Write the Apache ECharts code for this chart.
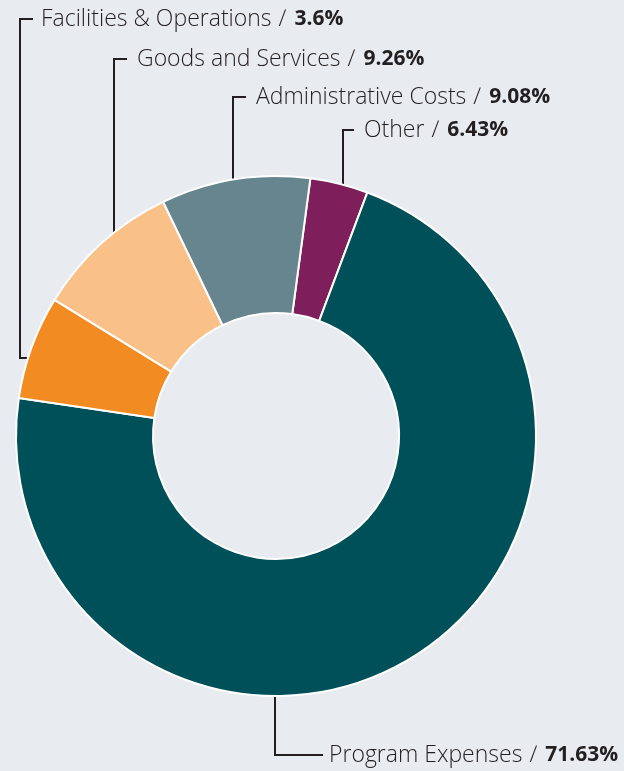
<!DOCTYPE html>
<html>
<head>
<meta charset="utf-8">
<script src="https://cdn.jsdelivr.net/npm/echarts@6/dist/echarts.min.js"></script>
<style>
  html, body { margin: 0; padding: 0; background: #e8ebf0; }
  #chart { width: 624px; height: 771px; }
</style>
</head>
<body>
<div id="chart"></div>
<script>
// slices clockwise, starting with the small purple one
var names = ['Other', 'Program Expenses', 'Facilities & Operations', 'Goods and Services', 'Administrative Costs'];
var values = [3.6, 71.63, 6.43, 9.08, 9.26];
// percentages as printed next to the labels in the original
var printedPct = ['6.43%', '71.63%', '3.6%', '9.26%', '9.08%'];
var colors = ['#7e1f5b', '#00505a', '#f28b21', '#f9c187', '#66858e'];

var cx = 276, cy = 436, rIn = 123, rOut = 260;

// label spots: text left x, text middle y, x of the vertical leader
var labelSpots = [
  {x: 364, y: 130, lx: 343},
  {x: 329, y: 755, lx: 275, bottom: true},
  {x: 41, y: 19, lx: 20, side: 358},
  {x: 137, y: 59, lx: 114},
  {x: 256, y: 97, lx: 233}
];

var data = [];
for (var i = 0; i < names.length; i++) {
  data.push({name: names[i], value: values[i], itemStyle: {color: colors[i]}});
}

// leader lines: elbow from the label down to the ring's outer edge
var lines = [];
labelSpots.forEach(function (s) {
  var pts;
  if (s.bottom) {
    pts = [[s.lx, cy + rOut], [s.lx, s.y], [s.x - 6, s.y]];
  } else if (s.side) {
    var ex = cx - Math.sqrt(rOut * rOut - (s.side - cy) * (s.side - cy));
    pts = [[s.x - 8, s.y], [s.lx, s.y], [s.lx, s.side], [ex, s.side]];
  } else {
    var ey = cy - Math.sqrt(rOut * rOut - (s.lx - cx) * (s.lx - cx));
    pts = [[s.x - 10, s.y], [s.lx, s.y], [s.lx, ey]];
  }
  lines.push({
    type: 'polyline',
    shape: {points: pts},
    style: {stroke: '#231f20', lineWidth: 2, fill: null},
    z: 1
  });
});

var myChart = echarts.init(document.getElementById('chart'));
var option = {
  backgroundColor: '#e8ebf0',
  animation: false,
  graphic: lines,
  series: [{
    type: 'pie',
    center: [cx, cy],
    radius: [rIn, rOut],
    startAngle: 82.4,
    clockwise: true,
    avoidLabelOverlap: false,
    itemStyle: {borderColor: '#ffffff', borderWidth: 2},
    label: {
      show: true,
      formatter: function (p) {
        return '{n|' + p.name + '}{s|\u2215}{b|' + printedPct[p.dataIndex] + '}';
      },
      rich: {
        n: {fontFamily: 'Open Sans', fontSize: 23, fontWeight: 300, color: '#231f20'},
        s: {fontFamily: 'Open Sans', fontSize: 23, fontWeight: 300, color: '#231f20', padding: [0, 8, 0, 7]},
        b: {fontFamily: 'Open Sans', fontSize: 21, fontWeight: 'bold', color: '#231f20'}
      }
    },
    labelLine: {show: false},
    labelLayout: function (p) {
      var s = labelSpots[p.dataIndex];
      return {x: s.x, y: s.y, align: 'left', verticalAlign: 'middle'};
    },
    emphasis: {disabled: true},
    data: data
  }]
};
myChart.setOption(option);
</script>
</body>
</html>
